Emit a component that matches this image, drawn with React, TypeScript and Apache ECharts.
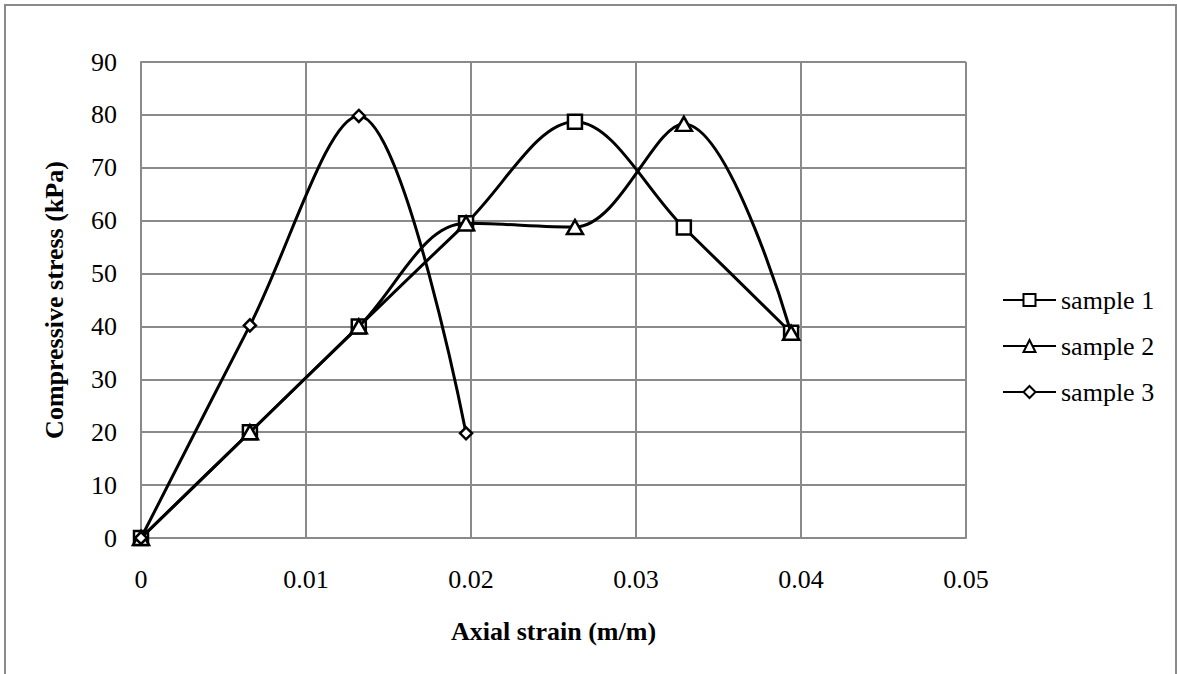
import React, { useEffect, useRef } from "react";
import * as echarts from "echarts";

const strain = [0, 0.0066, 0.0132, 0.0197, 0.0263, 0.0329, 0.0394];
const sample1 = [0, 20, 40, 59.5, 78.7, 58.7, 38.8];
const sample2 = [0, 20, 40, 59.5, 58.8, 78.3, 38.8];
const sample3 = [0, 40.2, 79.8, 19.8];
const seriesNames = ["sample 1", "sample 2", "sample 3"];
const seriesSymbols = ["rect", "triangle", "diamond"];
const xTitle = "Axial strain (m/m)";
const yTitle = "Compressive stress (kPa)";

const FONT = "Liberation Serif";

export default function App() {
  const ref = useRef<HTMLDivElement>(null);
  useEffect(() => {
    if (!ref.current) return;
    const chart = echarts.init(ref.current, undefined, { renderer: "svg" });
    const values = [sample1, sample2, sample3];
    const sizes: any[] = [14, [16, 14], 12];
    const series = values.map((vals, i) => ({
      name: seriesNames[i],
      type: "line",
      smooth: 0.35,
      data: vals.map((v, j) => [strain[j], v]),
      symbol: seriesSymbols[i],
      symbolSize: sizes[i],
      showAllSymbol: true,
      lineStyle: { color: "#000", width: 3 },
      itemStyle: { color: "#fff", borderColor: "#000", borderWidth: 2.5 },
      emphasis: { disabled: true },
      z: 3 + i,
    }));
    chart.setOption({
      animation: false,
      backgroundColor: "#fff",
      textStyle: { fontFamily: FONT },
      graphic: [
        {
          type: "rect",
          shape: { x: 5, y: 5, width: 1171, height: 700 },
          style: { fill: "none", stroke: "#8a8a8a", lineWidth: 2 },
          silent: true,
        },
      ],
      grid: { left: 141, top: 62, right: 211, bottom: 136, containLabel: false },
      legend: {
        orient: "vertical",
        left: 997,
        top: 280,
        itemWidth: 53,
        itemHeight: 15,
        itemGap: 16,
        textStyle: { fontFamily: FONT, fontSize: 26, color: "#000", lineHeight: 30 },
        data: seriesNames,
      },
      xAxis: {
        type: "value",
        min: 0,
        max: 0.05,
        interval: 0.01,
        name: xTitle,
        nameLocation: "middle",
        nameGap: 80,
        nameTextStyle: { fontFamily: FONT, fontSize: 26, fontWeight: "bold", color: "#000" },
        axisLine: { show: true, lineStyle: { color: "#8a8a8a", width: 2 } },
        axisTick: { show: false },
        axisLabel: {
          margin: 28,
          fontFamily: FONT,
          fontSize: 26,
          color: "#000",
          formatter: (v: number) => String(+v.toFixed(2)),
        },
        splitLine: { show: true, lineStyle: { color: "#8a8a8a", width: 2 } },
      },
      yAxis: {
        type: "value",
        min: 0,
        max: 90,
        interval: 10,
        name: yTitle,
        nameLocation: "middle",
        nameGap: 74,
        nameTextStyle: { fontFamily: FONT, fontSize: 26, fontWeight: "bold", color: "#000" },
        axisLine: { show: true, lineStyle: { color: "#8a8a8a", width: 2 } },
        axisTick: { show: false },
        axisLabel: { margin: 24, fontFamily: FONT, fontSize: 26, color: "#000" },
        splitLine: { show: true, lineStyle: { color: "#8a8a8a", width: 2 } },
      },
      series,
    });
    return () => chart.dispose();
  }, []);
  return (
    <div
      ref={ref}
      style={{ position: "fixed", left: 0, top: 0, width: 1177, height: 674 }}
    />
  );
}
